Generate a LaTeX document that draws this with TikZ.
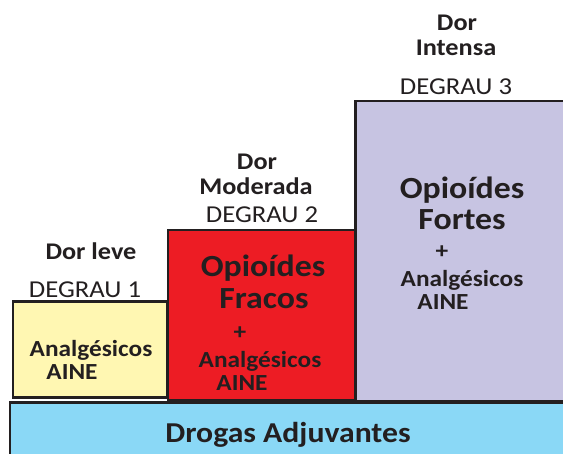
\documentclass[tikz,border=0pt]{standalone}
\usepackage{fontspec}
\setmainfont[FakeStretch=1.1]{Carlito}
\definecolor{contorno}{HTML}{231F20}
\definecolor{amarelo}{HTML}{FFF7B2}
\definecolor{vermelho}{HTML}{ED1C24}
\definecolor{lilas}{HTML}{C7C4E2}
\definecolor{azul}{HTML}{8AD8F6}
\begin{document}
\begin{tikzpicture}[x=0.02cm, y=-0.02cm,
    caixa/.style={line width=1.7pt, draw=contorno},
    dor/.style={font=\bfseries\fontsize{13.6}{15}\selectfont, text=contorno, inner sep=0pt},
    degrau/.style={font=\fontsize{13.8}{16}\selectfont, text=contorno, inner sep=0pt},
    droga/.style={font=\bfseries\fontsize{13.1}{14}\selectfont, text=contorno, inner sep=0pt},
    opioide/.style={font=\bfseries\fontsize{17.5}{20}\selectfont, text=contorno, inner sep=0pt}]
    \clip (0,0) rectangle (563,453);
    \fill[white] (0,0) rectangle (563,453);
    % degraus
    \draw[caixa, fill=lilas] (355,101) rectangle (590,401);
    \draw[caixa, fill=vermelho] (168,230) rectangle (355,400);
    \draw[caixa, fill=amarelo] (13,301) rectangle (167,397);
    \draw[caixa, fill=azul] (10,402) rectangle (590,480);
    % degrau 1
    \node[dor] (dor1) at (91,251) {Dor leve};
    \node[degrau] (deg1) at (85,290) {DEGRAU 1};
    \node[droga] (anal1) at (91,350) {Analgésicos};
    \node[droga] (aine1) at (72,372) {AINE};
    % degrau 2
    \node[dor] (dor2a) at (257,162) {Dor};
    \node[dor] (dor2b) at (256,186) {Moderada};
    \node[degrau] (deg2) at (262,215) {DEGRAU 2};
    \node[opioide] (op2a) at (263,268) {Opioídes};
    \node[opioide] (op2b) at (264,299) {Fracos};
    \node[droga] (mais2) at (240,333) {+};
    \node[droga] (anal2) at (260,361) {Analgésicos};
    \node[droga] (aine2) at (242,383) {AINE};
    % degrau 3
    \node[dor] (dor3a) at (457,23) {Dor};
    \node[dor] (dor3b) at (456,48) {Intensa};
    \node[degrau] (deg3) at (456,87) {DEGRAU 3};
    \node[opioide] (op3a) at (462,190) {Opioídes};
    \node[opioide] (op3b) at (462,220) {Fortes};
    \node[droga] (mais3) at (442,252) {+};
    \node[droga] (anal3) at (462,280) {Analgésicos};
    \node[droga] (aine3) at (443,302) {AINE};
    % base
    \node[droga, font=\bfseries\fontsize{16.4}{17}\selectfont] (adj) at (288,435) {Drogas Adjuvantes};
\end{tikzpicture}
\end{document}
